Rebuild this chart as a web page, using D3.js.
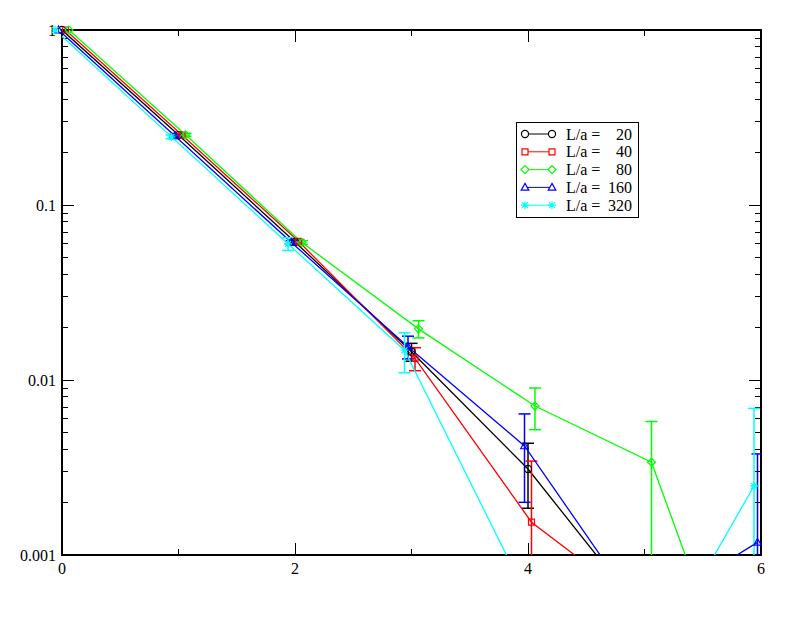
<!DOCTYPE html>
<html><head><meta charset="utf-8">
<script src="https://cdn.jsdelivr.net/npm/d3@7"></script>
<style>body{margin:0;background:#fff}svg{display:block}</style>
</head><body>
<svg id="c" width="811" height="627"></svg>
<script>
const xs = [0, 1, 2, 3, 4, 5, 6];
const seriesNames = ["20", "40", "80", "160", "320"];
const seriesColors = ["#000000", "#ff0000", "#00ff00", "#0000ff", "#00ffff"];
const seriesSymbols = ["circle", "square", "diamond", "triangle", "star"];
const seriesShift = [0, 0.03, 0.06, -0.03, -0.06];
const vals20  = [1.0, 0.251, 0.0615, 0.0145, 0.0031, 0.00045, null];
const vals40  = [1.0, 0.251, 0.0620, 0.0133, 0.00154, 0.00048, null];
const vals80  = [1.0, 0.252, 0.0610, 0.0196, 0.0071, 0.00339, 0.00005];
const vals160 = [1.0, 0.248, 0.0610, 0.0155, 0.0042, 0.00046, 0.00118];
const vals320 = [1.0, 0.245, 0.0600, 0.0148, 0.00068, 0.00017, 0.00248];
const err20  = [0, 0.005, 0.0015, 0.0017, 0.00125, 0.0002, null];
const err40  = [0, 0.005, 0.0015, 0.0020, 0.0019, 0.0002, null];
const err80  = [0, 0.005, 0.0015, 0.0022, 0.0019, 0.0024, 0.00002];
const err160 = [0, 0.005, 0.0015, 0.0023, 0.0022, 0.0002, 0.0026];
const err320 = [0, 0.006, 0.0050, 0.0038, 0.0002, 0.0001, 0.0044];
const xTicks = [0, 2, 4, 6];
const xMinor = [1, 3, 5];
const yTicks = [0.001, 0.01, 0.1, 1];
const yTickLabels = ["0.001", "0.01", "0.1", "1"];

const allVals = [vals20, vals40, vals80, vals160, vals320];
const allErr = [err20, err40, err80, err160, err320];

const svg = d3.select("#c");
const L = 62, R = 761, T = 30, B = 555;
const x = d3.scaleLinear().domain([0, 6]).range([L, R]);
const y = d3.scaleLog().domain([0.001, 1]).range([B, T]);
const font = "'Liberation Serif', 'Times New Roman', serif";

svg.append("defs").append("clipPath").attr("id", "pc")
  .append("rect").attr("x", L).attr("y", T).attr("width", R - L).attr("height", B - T);

const yMinor = [];
for (let e = -3; e < 0; e++) for (let m = 2; m <= 9; m++) yMinor.push(m * Math.pow(10, e));

const ax = svg.append("g").attr("shape-rendering", "crispEdges");
ax.append("rect").attr("x", L).attr("y", T).attr("width", R - L).attr("height", B - T)
  .attr("fill", "none").attr("stroke", "#000").attr("stroke-width", 1.5);
yTicks.forEach(v => {
  ax.append("line").attr("x1", L).attr("x2", L + 12).attr("y1", y(v)).attr("y2", y(v)).attr("stroke", "#000");
  ax.append("line").attr("x1", R).attr("x2", R - 12).attr("y1", y(v)).attr("y2", y(v)).attr("stroke", "#000");
});
yMinor.forEach(v => {
  ax.append("line").attr("x1", L).attr("x2", L + 6).attr("y1", y(v)).attr("y2", y(v)).attr("stroke", "#000");
  ax.append("line").attr("x1", R).attr("x2", R - 6).attr("y1", y(v)).attr("y2", y(v)).attr("stroke", "#000");
});
xTicks.forEach(v => {
  ax.append("line").attr("x1", x(v)).attr("x2", x(v)).attr("y1", B).attr("y2", B - 12).attr("stroke", "#000");
  ax.append("line").attr("x1", x(v)).attr("x2", x(v)).attr("y1", T).attr("y2", T + 12).attr("stroke", "#000");
});
xMinor.forEach(v => {
  ax.append("line").attr("x1", x(v)).attr("x2", x(v)).attr("y1", B).attr("y2", B - 6).attr("stroke", "#000");
  ax.append("line").attr("x1", x(v)).attr("x2", x(v)).attr("y1", T).attr("y2", T + 6).attr("stroke", "#000");
});
const lab = svg.append("g");
yTicks.forEach((v, i) => {
  lab.append("text").attr("x", L - 6).attr("y", y(v)).attr("dy", "0.35em").attr("text-anchor", "end")
    .style("font-family", font).style("font-size", "16px").text(yTickLabels[i]);
});
xTicks.forEach(v => {
  lab.append("text").attr("x", x(v)).attr("y", B + 19).attr("text-anchor", "middle")
    .style("font-family", font).style("font-size", "16px").text(String(v));
});

function symbolPath(kind) {
  if (kind === "circle") return d3.symbol(d3.symbolCircle, 40)();
  if (kind === "square") return "M-3,-3H3V3H-3Z";
  if (kind === "diamond") return "M0,-4L4,0L0,4L-4,0Z";
  if (kind === "triangle") return "M0,-4L3.8,2.8H-3.8Z";
  return "M-4,0H4M0,-4V4M-3,-3L3,3M-3,3L3,-3";
}

const dataG = svg.append("g").attr("clip-path", "url(#pc)");
const markG = svg.append("g");
const tiny = 1e-8;

allVals.forEach((vals, si) => {
  const col = seriesColors[si];
  const pts = xs.map((xv, i) => ({ x: xv + seriesShift[si], v: vals[i], e: allErr[si][i] }))
    .filter(d => d.v !== null && d.v > 0);
  const eg = dataG.append("g");
  pts.forEach(d => {
    if (!d.e) return;
    const hi = d.v + d.e, lo = Math.max(d.v - d.e, tiny);
    const px = x(d.x);
    eg.append("line").attr("x1", px).attr("x2", px).attr("y1", y(hi)).attr("y2", y(lo))
      .attr("stroke", col).attr("stroke-width", 1.5);
    eg.append("line").attr("x1", px - 6).attr("x2", px + 6).attr("y1", y(hi)).attr("y2", y(hi))
      .attr("stroke", col).attr("stroke-width", 1.5);
    if (d.v - d.e > 0)
      eg.append("line").attr("x1", px - 6).attr("x2", px + 6).attr("y1", y(lo)).attr("y2", y(lo))
        .attr("stroke", col).attr("stroke-width", 1.5);
  });
  const line = d3.line().x(d => x(d.x)).y(d => y(d.v));
  dataG.append("path").attr("d", line(pts)).attr("fill", "none").attr("stroke", col).attr("stroke-width", 1.3);
  pts.filter(d => d.v >= 0.001).forEach(d => {
    markG.append("path").attr("d", symbolPath(seriesSymbols[si]))
      .attr("transform", `translate(${x(d.x)},${y(d.v)})`)
      .attr("fill", "none").attr("stroke", col).attr("stroke-width", 1.2);
  });
});

const lg = svg.append("g");
lg.append("rect").attr("x", 516).attr("y", 122).attr("width", 122).attr("height", 95)
  .attr("fill", "#fff").attr("stroke", "#000").attr("stroke-width", 1).attr("shape-rendering", "crispEdges");
seriesNames.forEach((n, i) => {
  const yy = 134 + i * 17.8;
  const col = seriesColors[i];
  lg.append("line").attr("x1", 525).attr("x2", 552).attr("y1", yy).attr("y2", yy).attr("stroke", col);
  [525, 552].forEach(px => {
    lg.append("path").attr("d", symbolPath(seriesSymbols[i]))
      .attr("transform", `translate(${px},${yy})`)
      .attr("fill", "#fff").attr("stroke", col).attr("stroke-width", 1.2);
  });
  lg.append("text").attr("x", 566).attr("y", yy).attr("dy", "0.35em")
    .style("font-family", font).style("font-size", "16px").text("L/a =");
  lg.append("text").attr("x", 632).attr("y", yy).attr("dy", "0.35em").attr("text-anchor", "end")
    .style("font-family", font).style("font-size", "16px").text(n);
});
</script>
</body></html>
